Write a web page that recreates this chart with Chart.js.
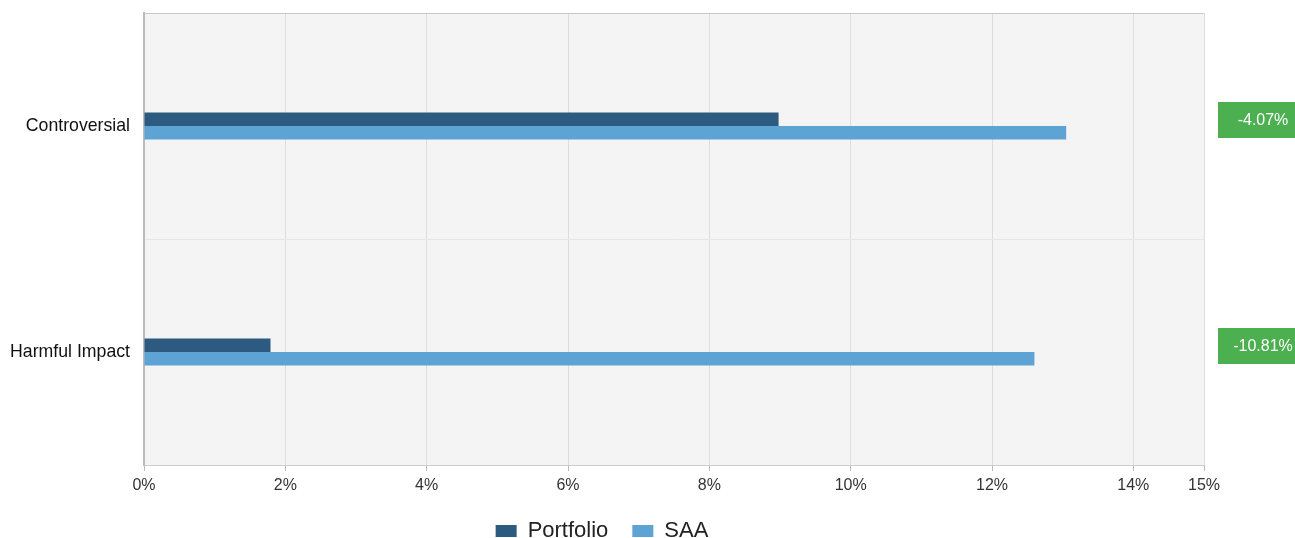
<!DOCTYPE html>
<html lang="en">
<head>
    <meta charset="UTF-8">
    <title>Portfolio vs SAA</title>
    <style>
        body {
            margin: 0;
            padding: 0;
            background-color: white;
        }
        #chartBox {
            width: 1295px;
            height: 538px;
        }
    </style>
    <script src="https://cdn.jsdelivr.net/npm/chart.js"></script>
</head>
<body>
    <div id="chartBox">
        <canvas id="esgChart" width="1295" height="538"></canvas>
    </div>
    <script>
        const categories = ["Controversial", "Harmful Impact"];
        const portfolioValues = [8.98, 1.79];
        const saaValues = [13.05, 12.60];
        const diffLabels = ["-4.07%", "-10.81%"];
        const xTicks = [0, 2, 4, 6, 8, 10, 12, 14, 15];

        const fontFamily = "'Liberation Sans', Arial, sans-serif";

        // grey plot background + green difference boxes on the right
        const extras = {
            id: "extras",
            beforeDraw(chart) {
                const {ctx, chartArea} = chart;
                ctx.save();
                ctx.fillStyle = "#f4f4f4";
                ctx.fillRect(chartArea.left, chartArea.top, chartArea.right - chartArea.left, chartArea.bottom - chartArea.top);
                ctx.restore();
            },
            afterDraw(chart) {
                const {ctx, chartArea} = chart;
                const yScale = chart.scales.y;
                ctx.save();
                ctx.font = "16px " + fontFamily;
                ctx.textAlign = "center";
                ctx.textBaseline = "middle";
                for (let i = 0; i < diffLabels.length; i++) {
                    const cy = yScale.getPixelForValue(i) - 6;
                    const left = chartArea.right + 14;
                    ctx.fillStyle = "#4caf50";
                    ctx.fillRect(left, cy - 18, 90, 36);
                    ctx.fillStyle = "white";
                    ctx.fillText(diffLabels[i], left + 45, cy + 1);
                }
                ctx.restore();
            }
        };

        new Chart(document.getElementById("esgChart"), {
            type: "bar",
            data: {
                labels: categories,
                datasets: [
                    {
                        label: "Portfolio",
                        data: portfolioValues,
                        backgroundColor: "#2c5a80",
                        categoryPercentage: 0.12,
                        barPercentage: 1
                    },
                    {
                        label: "SAA",
                        data: saaValues,
                        backgroundColor: "#5da3d4",
                        categoryPercentage: 0.12,
                        barPercentage: 1
                    }
                ]
            },
            options: {
                indexAxis: "y",
                responsive: false,
                animation: false,
                layout: {
                    padding: {top: 13, right: 91, left: 0, bottom: -14}
                },
                plugins: {
                    legend: {
                        position: "bottom",
                        labels: {
                            boxWidth: 21,
                            boxHeight: 12,
                            padding: 24,
                            color: "#222",
                            font: {size: 22, family: fontFamily}
                        }
                    },
                    tooltip: {enabled: false}
                },
                scales: {
                    x: {
                        min: 0,
                        max: 15,
                        afterBuildTicks(scale) {
                            scale.ticks = xTicks.map(v => ({value: v}));
                        },
                        afterFit(scale) {
                            scale.height = 31;
                        },
                        ticks: {
                            color: "#333",
                            padding: 5,
                            font: {size: 16, family: fontFamily},
                            callback: v => v + "%"
                        },
                        grid: {
                            color: "#dddddd",
                            tickLength: 6,
                            tickColor: "#bbbbbb"
                        },
                        border: {color: "#cccccc", width: 1}
                    },
                    y: {
                        afterFit(scale) {
                            scale.width = 144;
                            scale.paddingTop = 0;
                            scale.paddingBottom = 0;
                        },
                        ticks: {
                            color: "#111",
                            padding: 14,
                            font: {size: 17.7, family: fontFamily}
                        },
                        grid: {
                            offset: true,
                            drawTicks: false,
                            color: ctx => ctx.index === 0 ? "#c8c8c8" : "#e6e6e6"
                        },
                        border: {color: "#bbbbbb", width: 2}
                    }
                }
            },
            plugins: [extras]
        });
    </script>
</body>
</html>
